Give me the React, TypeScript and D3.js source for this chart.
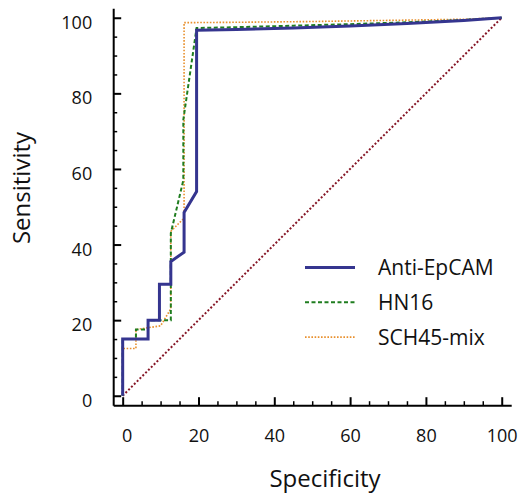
import { useEffect, useRef } from "react";
import * as d3 from "d3";

// ROC curves, values (specificity axis as drawn, sensitivity)
const epcamSpec = [0, 0, 6.7, 6.7, 9.7, 9.7, 12.7, 12.7, 16.2, 16.2, 19.5, 19.5, 30, 45, 60, 75, 90, 100];
const epcamSens = [0, 15, 15, 20, 20, 29.5, 29.5, 35.5, 38, 48.5, 54, 96.7, 96.9, 97.3, 97.8, 98.5, 99.3, 100];

const hn16Spec = [0, 0, 3.5, 3.5, 6.7, 6.7, 12.7, 12.7, 16, 16, 19.5, 30, 45, 60, 75, 90, 100];
const hn16Sens = [0, 15, 15, 17.5, 17.5, 20, 20, 43, 57, 73, 97.3, 97.5, 97.9, 98.3, 98.8, 99.4, 100];

const schSpec = [0, 0, 3.5, 3.5, 10, 12.7, 12.7, 16.2, 16.2, 30, 50, 70, 90, 100];
const schSens = [0, 12.5, 12.5, 17.5, 18.5, 23, 43.5, 47, 98.7, 98.8, 99, 99.3, 99.6, 100];

const refSpec = [0, 100];
const refSens = [0, 100];

const majorTicks = [0, 20, 40, 60, 80, 100];
const minorTicks = [5, 10, 15, 25, 30, 35, 45, 50, 55, 65, 70, 75, 85, 90, 95];

const seriesNames = ["Anti-EpCAM", "HN16", "SCH45-mix"];

const FONT = "'Open Sans', sans-serif";

export default function App() {
  const ref = useRef<SVGSVGElement>(null);

  useEffect(() => {
    const svg = d3.select(ref.current);
    svg.selectAll("*").remove();

    const x = d3.scaleLinear().domain([-2.5, 102.5]).range([113.2, 511.2]);
    const y = d3.scaleLinear().domain([-2.5, 102.5]).range([405.2, 8.3]);

    const styleAxis = (g: any) => {
      g.select(".domain").attr("stroke", "#000").attr("stroke-width", 2);
      g.selectAll(".tick line").attr("stroke", "#000").attr("stroke-width", 2);
      g.selectAll("text")
        .attr("font-family", FONT)
        .attr("font-size", 18)
        .attr("fill", "#111");
    };

    // y axis
    svg.append("g")
      .attr("transform", `translate(${x(-2.5)},0)`)
      .call(d3.axisLeft(y).tickValues(majorTicks).tickSize(-8).tickSizeOuter(0).tickPadding(21))
      .call(styleAxis)
      .call(g => g.selectAll("text").attr("dy", "0.58em"));
    svg.append("g")
      .attr("transform", `translate(${x(-2.5)},0)`)
      .call(d3.axisLeft(y).tickValues(minorTicks).tickSize(-4).tickFormat(() => ""))
      .call(g => g.select(".domain").remove())
      .call(g => g.selectAll(".tick line").attr("stroke", "#000").attr("stroke-width", 1.5));

    // x axis
    svg.append("g")
      .attr("transform", `translate(0,${y(-2.5)})`)
      .call(d3.axisBottom(x).tickValues(majorTicks).tickSize(-8).tickSizeOuter(0).tickPadding(24))
      .call(styleAxis)
      .call(g => g.selectAll("text").attr("dx", (d: any) => (d === 0 ? 4 : 0)));
    svg.append("g")
      .attr("transform", `translate(0,${y(-2.5)})`)
      .call(d3.axisBottom(x).tickValues(minorTicks).tickSize(-4).tickFormat(() => ""))
      .call(g => g.select(".domain").remove())
      .call(g => g.selectAll(".tick line").attr("stroke", "#000").attr("stroke-width", 1.5));

    // axis titles
    svg.append("text")
      .attr("x", 325).attr("y", 487)
      .attr("text-anchor", "middle")
      .attr("font-family", FONT).attr("font-size", 24).attr("fill", "#111")
      .text("Specificity");
    svg.append("text")
      .attr("transform", "translate(30,188) rotate(-90)")
      .attr("text-anchor", "middle")
      .attr("font-family", FONT).attr("font-size", 24).attr("fill", "#111")
      .text("Sensitivity");

    const draw = (xs: number[], ys: number[], color: string, width: number, dash: string | null) => {
      const pts: [number, number][] = xs.map((v, i) => [x(v), y(ys[i])]);
      svg.append("path")
        .attr("d", d3.line()(pts))
        .attr("fill", "none")
        .attr("stroke", color)
        .attr("stroke-width", width)
        .attr("stroke-dasharray", dash)
        .attr("stroke-linejoin", "miter");
    };

    const colors = ["#35358f", "#1f7d1f", "#e8902e"];
    const widths = [3, 2, 1.6];
    const dashes = [null, "4,2.5", "1.6,1.6"];

    draw(refSpec, refSens, "#861626", 2, "2,2");
    draw(schSpec, schSens, colors[2], widths[2], dashes[2]);
    draw(hn16Spec, hn16Sens, colors[1], widths[1], dashes[1]);
    draw(epcamSpec, epcamSens, colors[0], widths[0], null);

    // legend
    const leg = svg.append("g");
    seriesNames.forEach((name, i) => {
      const ly = 267.5 + i * 34.8;
      leg.append("line")
        .attr("x1", 305).attr("x2", 355).attr("y1", ly).attr("y2", ly)
        .attr("stroke", colors[i]).attr("stroke-width", widths[i])
        .attr("stroke-dasharray", dashes[i]);
      leg.append("text")
        .attr("x", 378).attr("y", ly).attr("dy", "0.36em")
        .attr("font-family", FONT).attr("font-size", 21).attr("fill", "#111")
        .text(name);
    });
  }, []);

  return (
    <svg
      ref={ref}
      width={526}
      height={498}
      style={{ position: "absolute", left: 0, top: 0, background: "#fff" }}
    />
  );
}
